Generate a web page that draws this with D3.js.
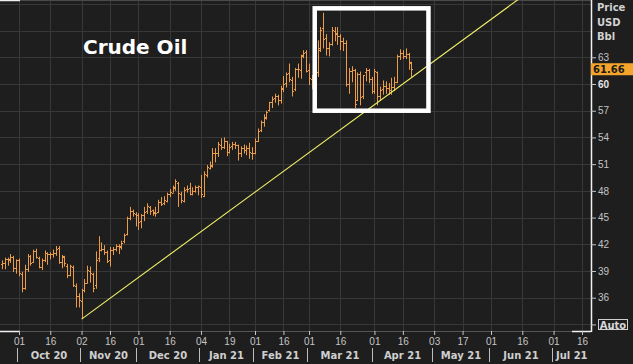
<!DOCTYPE html>
<html lang="en">
<head>
<meta charset="UTF-8">
<title>Crude Oil</title>
<script src="https://cdn.jsdelivr.net/npm/d3@7"></script>
<style>
  body { margin: 0; background: #1e1e1e; }
  svg { display: block; font-family: "DejaVu Sans", Verdana, sans-serif; }
</style>
</head>
<body>
<svg id="chart" width="633" height="364"></svg>
<script>
// daily bars for the front-month contract, consecutive sessions from startDate
const startDate = "2020-09-23";
const openVals = [
  39.8, 39.9, 40.3, 40.3, 40.6, 39.3,
  40.2, 38.7, 37.1, 39.2, 40.7, 40.0, 41.2, 40.5, 39.4, 40.2, 41.0, 40.9, 40.9, 41.0, 41.6, 40.0, 40.6, 39.6, 38.6, 39.5, 37.3, 36.2,
  35.6, 36.9, 37.7, 39.0, 38.7, 37.4, 40.5, 41.4, 41.5, 41.1, 40.2, 41.4, 41.5, 41.8, 41.8, 42.4, 43.1, 45.0, 45.7, 45.4,
  45.3, 44.6, 45.3, 45.7, 46.2, 45.8, 45.5, 45.6, 46.8, 46.6, 46.9, 47.6, 47.8, 48.4, 48.9, 47.6, 46.9, 48.2, 48.3, 47.7, 48.0, 48.4,
  48.4, 47.4, 49.8, 50.6, 50.9, 52.3, 52.3, 53.2, 52.9, 53.6, 52.4, 53.0, 53.3, 53.1, 52.3, 52.8, 52.6, 52.8, 52.3,
  52.3, 53.6, 54.8, 55.7, 56.3, 57.1, 58.0, 58.4, 58.7, 58.2, 59.6, 60.1, 61.2, 60.5, 59.4, 61.7, 61.6, 63.2, 63.6,
  61.6, 60.6, 59.8, 61.3, 64.0, 66.3, 65.2, 64.1, 64.5, 66.0, 65.7, 65.4, 64.8, 64.6, 60.0, 61.5, 61.6, 58.2, 61.1, 58.6, 61.3, 61.6, 60.6,
  59.2, 61.3, 58.6, 59.4, 59.8, 59.6, 59.3, 59.7, 60.2, 63.2, 63.5, 63.1, 63.4, 62.4
];
const highVals = [
  40.2, 40.5, 40.5, 40.9, 40.7, 40.3,
  40.4, 38.9, 39.7, 40.9, 40.8, 41.4, 41.5, 40.6, 40.4, 41.3, 41.1, 41.1, 41.4, 41.8, 41.8, 40.8, 40.7, 39.8, 39.7, 39.6, 37.6, 36.5,
  37.0, 38.1, 39.6, 39.5, 38.8, 41.2, 42.9, 42.2, 41.9, 41.3, 41.7, 41.7, 42.0, 42.0, 42.4, 43.2, 45.1, 46.2, 45.9, 45.6,
  45.5, 45.4, 46.2, 46.6, 46.3, 45.9, 46.2, 47.0, 47.3, 47.4, 47.8, 48.2, 48.6, 49.3, 49.0, 47.9, 48.4, 48.6, 48.9, 48.4, 48.6, 48.6,
  49.8, 50.2, 50.9, 51.3, 52.8, 52.8, 53.5, 53.9, 54.0, 53.6, 53.3, 53.5, 53.5, 53.2, 53.0, 53.2, 53.1, 53.4, 52.9,
  53.9, 55.0, 55.9, 56.6, 57.0, 58.0, 58.6, 58.9, 58.8, 59.8, 60.9, 61.3, 62.3, 60.8, 61.8, 62.3, 63.3, 63.8, 63.8,
  62.3, 61.0, 61.9, 64.9, 66.4, 68.0, 65.6, 64.7, 66.4, 66.4, 66.4, 65.6, 65.2, 64.9, 61.8, 62.0, 61.7, 61.3, 61.4, 61.0, 61.8, 61.7, 60.8,
  61.7, 61.4, 59.7, 60.4, 60.3, 60.1, 60.7, 60.8, 63.3, 63.9, 63.8, 64.0, 63.5, 62.5
];
const lowVals = [
  39.2, 39.2, 39.6, 39.9, 38.9, 38.7,
  38.4, 36.6, 36.9, 38.9, 39.6, 39.9, 40.4, 39.3, 39.1, 40.0, 39.7, 40.3, 40.5, 40.7, 39.8, 39.3, 39.5, 38.2, 38.4, 37.2, 34.9, 34.9,
  33.6, 36.6, 37.6, 37.7, 36.6, 37.0, 40.0, 41.2, 40.8, 39.9, 39.5, 40.8, 41.2, 40.9, 41.4, 42.1, 43.0, 44.7, 45.1, 44.0,
  43.6, 43.8, 44.6, 45.4, 45.3, 45.2, 45.1, 45.5, 46.3, 46.4, 46.7, 47.3, 47.8, 48.0, 46.2, 46.6, 46.7, 47.8, 47.5, 47.5, 47.8, 47.5,
  47.2, 47.3, 49.5, 50.4, 50.6, 51.2, 51.8, 52.6, 52.7, 51.9, 52.2, 52.6, 52.7, 51.4, 51.8, 52.2, 52.0, 51.6, 51.5,
  52.1, 53.5, 54.6, 55.2, 56.0, 56.9, 57.3, 57.9, 57.6, 57.8, 59.1, 59.6, 60.2, 58.6, 59.2, 60.7, 60.6, 62.9, 61.3,
  59.9, 59.4, 59.3, 60.8, 63.6, 64.0, 63.2, 63.1, 64.3, 64.8, 64.4, 63.8, 63.7, 59.7, 58.9, 60.2, 57.3, 58.1, 57.6, 58.3, 60.3, 60.1, 58.9,
  58.9, 57.6, 58.1, 58.8, 58.9, 58.8, 58.8, 59.2, 60.1, 62.7, 62.8, 62.8, 61.6, 60.8
];
const closeVals = [
  39.93, 40.31, 40.25, 40.60, 39.29, 40.22,
  38.72, 37.05, 39.22, 40.67, 39.95, 41.19, 40.60, 39.43, 40.20, 41.04, 40.96, 40.88, 41.06, 41.46, 40.03, 40.64, 39.85, 38.56, 39.57, 37.39, 36.17, 35.79,
  36.81, 37.66, 39.15, 38.79, 37.14, 40.29, 41.36, 41.45, 41.12, 40.13, 41.34, 41.43, 41.82, 41.74, 42.15, 43.06, 44.91, 45.71, 45.53, 45.34,
  44.55, 45.28, 45.64, 46.26, 45.76, 45.60, 45.52, 46.78, 46.57, 46.99, 47.62, 47.82, 48.36, 49.10, 47.74, 47.02, 48.12, 48.23, 47.62, 48.00, 48.40, 48.52,
  47.62, 49.93, 50.63, 50.83, 52.24, 52.25, 53.21, 52.91, 53.57, 52.36, 52.98, 53.24, 53.13, 52.27, 52.77, 52.61, 52.85, 52.34, 52.20,
  53.55, 54.76, 55.69, 56.23, 56.85, 57.97, 58.36, 58.68, 58.24, 59.47, 60.05, 61.14, 60.52, 59.24, 61.70, 61.67, 63.22, 63.53, 61.50,
  60.64, 59.75, 61.28, 63.83, 66.09, 65.05, 64.01, 64.44, 66.02, 65.61, 65.39, 64.80, 64.60, 60.00, 61.42, 61.55, 57.76, 61.18, 58.56, 60.97, 61.56, 60.55, 59.16,
  61.45, 58.65, 59.33, 59.77, 59.60, 59.32, 59.70, 60.18, 63.15, 63.46, 63.13, 63.38, 62.44, 61.66
];
const lastPrice = 61.66;

// trading calendar
const holidays = ["2020-11-26", "2020-12-25", "2021-01-01", "2021-01-18", "2021-02-15", "2021-04-02", "2021-05-31", "2021-07-05"];

// axis labels
const tickDates = ["2020-10-01", "2020-10-16", "2020-11-02", "2020-11-16", "2020-12-01", "2020-12-16",
  "2021-01-04", "2021-01-19", "2021-02-01", "2021-02-16", "2021-03-01", "2021-03-16", "2021-04-01", "2021-04-16",
  "2021-05-03", "2021-05-17", "2021-06-01", "2021-06-16", "2021-07-01", "2021-07-16"];
const monthStarts = ["2020-10-01", "2020-11-02", "2020-12-01", "2021-01-04", "2021-02-01", "2021-03-01",
  "2021-04-01", "2021-05-03", "2021-06-01", "2021-07-01"];
const monthLabels = ["Oct 20", "Nov 20", "Dec 20", "Jan 21", "Feb 21", "Mar 21", "Apr 21", "May 21", "Jun 21", "Jul 21"];
const priceTicks = [36, 39, 42, 45, 48, 51, 54, 57, 60, 63];
const gridPrices = [33, 36, 39, 42, 45, 48, 51, 54, 57, 60, 63, 66, 69];
const unitLabels = ["Price", "USD", "Bbl"];

// trendline anchors and highlight box (date, price)
const trendPoints = [["2020-11-02", 33.6], ["2021-06-15", 69.6]];
const boxDates = ["2021-03-03", "2021-04-29"];
const boxPrices = [57.0, 68.5];

const plotRight = 591;
const plotBottom = 331;
const barColor = "#ec9c46";
const textColor = "#c4c4c4";
const gridColor = "#383838";

const fmt = d3.timeFormat("%Y-%m-%d");
const calendar = d3.timeDay.range(new Date(2020, 8, 14), new Date(2021, 7, 10))
  .filter(d => d.getDay() !== 0 && d.getDay() !== 6)
  .map(fmt)
  .filter(s => !holidays.includes(s));
const dayIndex = new Map(calendar.map((s, i) => [s, i]));
const first = dayIndex.get(startDate);

const x = d3.scaleLinear()
  .domain([dayIndex.get("2020-10-01"), dayIndex.get("2021-07-16")])
  .range([19, 582]);
const y = d3.scaleLinear().domain([36, 63]).range([297.7, 57.3]);

const svg = d3.select("#chart");
svg.append("rect").attr("width", 633).attr("height", 364).attr("fill", "#1e1e1e");

svg.append("clipPath").attr("id", "plot-clip")
  .append("rect").attr("width", plotRight).attr("height", plotBottom);

// grid
const hGrid = svg.append("g")
  .attr("transform", `translate(${plotRight},0)`)
  .call(d3.axisRight(y).tickValues(gridPrices).tickSize(-plotRight).tickFormat(""));
const vGrid = svg.append("g")
  .attr("transform", `translate(0,${plotBottom})`)
  .call(d3.axisBottom(x).tickValues(tickDates.map(d => dayIndex.get(d))).tickSize(-plotBottom).tickFormat(""));
[hGrid, vGrid].forEach(g => {
  g.select(".domain").remove();
  g.selectAll("line").attr("stroke", gridColor).attr("shape-rendering", "crispEdges");
});

// frame
svg.append("line").attr("x1", 0).attr("x2", plotRight).attr("y1", 0.5).attr("y2", 0.5)
  .attr("stroke", "#4a4a4a");
svg.append("line").attr("x1", 0).attr("x2", plotRight).attr("y1", plotBottom + 0.5).attr("y2", plotBottom + 0.5)
  .attr("stroke", "#555");
[[0, 20, 0.5], [0, 20, plotBottom + 0.5], [572, plotRight, plotBottom + 0.5]].forEach(s => {
  svg.append("line").attr("x1", s[0]).attr("x2", s[1]).attr("y1", s[2]).attr("y2", s[2])
    .attr("stroke", "#f0f0f0").attr("stroke-width", 1.5);
});

const plot = svg.append("g").attr("clip-path", "url(#plot-clip)");

// OHLC bars
const bars = closeVals.map((c, i) => ({
  i: first + i, o: openVals[i], h: highVals[i], l: lowVals[i], c: c
}));
plot.append("g")
  .selectAll("path")
  .data(bars)
  .join("path")
  .attr("d", d => {
    const bx = Math.round(x(d.i)) + 0.5;
    const yo = Math.round(y(d.o)) + 0.5;
    const yc = Math.round(y(d.c)) + 0.5;
    return `M${bx},${y(d.h)}V${y(d.l)}M${bx - 1.5},${yo}H${bx}M${bx},${yc}H${bx + 1.5}`;
  })
  .attr("fill", "none")
  .attr("stroke", barColor)
  .attr("stroke-width", 1);

// trendline
plot.append("path")
  .datum(trendPoints)
  .attr("d", d3.line().x(d => x(dayIndex.get(d[0]))).y(d => y(d[1])))
  .attr("stroke", "#f2f26a")
  .attr("stroke-width", 1.1)
  .attr("fill", "none");

// highlight box
const bx0 = x(dayIndex.get(boxDates[0]));
const bx1 = x(dayIndex.get(boxDates[1]));
svg.append("rect")
  .attr("x", bx0).attr("y", y(boxPrices[1]))
  .attr("width", bx1 - bx0).attr("height", y(boxPrices[0]) - y(boxPrices[1]))
  .attr("fill", "none")
  .attr("stroke", "#ffffff")
  .attr("stroke-width", 4.5);

// title
svg.append("text")
  .attr("x", 83).attr("y", 54)
  .attr("fill", "#ffffff")
  .attr("font-size", 20)
  .attr("font-weight", "bold")
  .text("Crude Oil");

// right price axis
svg.append("line").attr("x1", plotRight + 0.5).attr("x2", plotRight + 0.5).attr("y1", 0).attr("y2", plotBottom + 1)
  .attr("stroke", "#f0f0f0").attr("stroke-width", 1.5);
const yAxis = svg.append("g")
  .attr("transform", `translate(${plotRight},0)`)
  .call(d3.axisRight(y).tickValues(priceTicks.concat([33])).tickSize(5).tickPadding(2)
    .tickFormat(v => v === 33 ? "" : d3.format("d")(v)));
yAxis.select(".domain").remove();
yAxis.selectAll("line").attr("stroke", textColor);
yAxis.selectAll("text")
  .attr("fill", v => v === 60 ? "#e6e6e6" : textColor)
  .attr("font-weight", v => v === 60 ? "bold" : "normal")
  .attr("font-size", 10)
  .attr("font-family", null);

unitLabels.forEach((t, i) => {
  svg.append("text")
    .attr("x", 597).attr("y", 11 + i * 14.5)
    .attr("fill", "#d2d2d2")
    .attr("font-size", 10)
    .attr("font-weight", "bold")
    .text(t);
});

// last price marker
const yLast = y(lastPrice);
svg.append("rect")
  .attr("x", plotRight).attr("y", yLast - 6)
  .attr("width", 633 - plotRight).attr("height", 12)
  .attr("fill", "#f5a42c");
svg.append("text")
  .attr("x", 593).attr("y", yLast + 4)
  .attr("fill", "#1a1a1a")
  .attr("font-size", 10)
  .attr("font-weight", "bold")
  .text(d3.format(".2f")(lastPrice));

// Auto button
svg.append("rect")
  .attr("x", 598.5).attr("y", 319.5).attr("width", 29).attr("height", 10)
  .attr("fill", "none").attr("stroke", "#d0d0d0");
svg.append("text")
  .attr("x", 613).attr("y", 328.5)
  .attr("text-anchor", "middle")
  .attr("fill", "#d8d8d8")
  .attr("font-size", 10)
  .attr("font-weight", "bold")
  .text("Auto");

// bottom date axis
const xAxis = svg.append("g")
  .attr("transform", `translate(0,${plotBottom})`)
  .call(d3.axisBottom(x)
    .tickValues(tickDates.map(d => dayIndex.get(d)))
    .tickSize(4).tickPadding(3)
    .tickFormat(i => calendar[i].slice(8)));
xAxis.select(".domain").remove();
xAxis.selectAll("line").attr("stroke", textColor);
xAxis.selectAll("text")
  .attr("fill", textColor)
  .attr("font-size", 10)
  .attr("font-family", null);

const seps = monthStarts.map(d => Math.round(x(dayIndex.get(d))) - 1.5);
seps.forEach((sx, i) => {
  svg.append("line")
    .attr("x1", sx).attr("x2", sx).attr("y1", 348).attr("y2", 362)
    .attr("stroke", "#bdbdbd");
  const next = i < seps.length - 1 ? seps[i + 1] : plotRight;
  svg.append("text")
    .attr("x", (sx + next) / 2).attr("y", 359)
    .attr("text-anchor", "middle")
    .attr("fill", "#cfcfcf")
    .attr("font-size", 10)
    .attr("font-weight", "bold")
    .text(monthLabels[i]);
});
</script>
</body>
</html>
